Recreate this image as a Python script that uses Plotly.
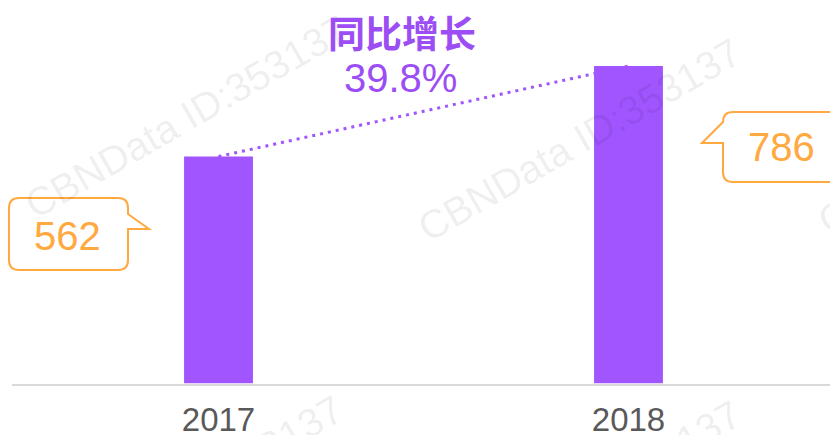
import plotly.graph_objects as go

years = [2017, 2018]
values = [562, 786]
growth_title = "同比增长"
growth_label = "39.8%"
watermark = "CBNData ID:353137"

W, H = 830, 435
BAR = "#A155FF"
ORANGE = "#FFA940"
PURPLE_TXT = "#9C4DF4"
FONT = "Liberation Sans, Arial, Noto Sans CJK SC"
CJK = "Noto Sans CJK SC, Liberation Sans"

def px(x):
    return x / W

def py(y):
    return 1 - y / H

fig = go.Figure()
fig.add_trace(go.Bar(x=years, y=values, width=0.168, marker=dict(color=BAR, line=dict(width=0)),
                     hoverinfo="skip"))
fig.add_trace(go.Scatter(x=years, y=values, mode="lines",
                         line=dict(color=BAR, width=3, dash="3px,5px"), hoverinfo="skip"))

def ann(cx, cy, text, font, angle=0):
    fig.add_annotation(x=px(cx), y=py(cy), xref="paper", yref="paper", text=text,
                       textangle=angle, showarrow=False, xanchor="center", yanchor="middle",
                       font=font)

# watermarks
for cx, cy in [(186, 117), (579, 140), (979, 133), (181, 497), (579, 502)]:
    ann(cx, cy, watermark, dict(size=40, family=FONT, color="rgba(0,0,0,0.075)"), -30)

def callout_right(x0, y0, x1, y1, ty0, ty1, tipx, r=10):
    return (f"M {px(x0+r)},{py(y0)} L {px(x1-r)},{py(y0)} Q {px(x1)},{py(y0)} {px(x1)},{py(y0+r)} "
            f"L {px(x1)},{py(ty0)} L {px(tipx)},{py(ty1)} L {px(x1)},{py(ty1)} "
            f"L {px(x1)},{py(y1-r)} Q {px(x1)},{py(y1)} {px(x1-r)},{py(y1)} "
            f"L {px(x0+r)},{py(y1)} Q {px(x0)},{py(y1)} {px(x0)},{py(y1-r)} "
            f"L {px(x0)},{py(y0+r)} Q {px(x0)},{py(y0)} {px(x0+r)},{py(y0)} Z")

def callout_left(x0, y0, x1, y1, ty0, ty1, tipx, r=10):
    return (f"M {px(x0+r)},{py(y0)} L {px(x1)},{py(y0)} L {px(x1)},{py(y1)} "
            f"L {px(x0+r)},{py(y1)} Q {px(x0)},{py(y1)} {px(x0)},{py(y1-r)} "
            f"L {px(x0)},{py(ty1)} L {px(tipx)},{py(ty1)} L {px(x0)},{py(ty0)} "
            f"L {px(x0)},{py(y0+r)} Q {px(x0)},{py(y0)} {px(x0+r)},{py(y0)} Z")

fig.add_shape(type="path", xref="paper", yref="paper",
              path=callout_right(9, 198, 128, 270, 214, 229, 149),
              line=dict(color=ORANGE, width=2), fillcolor="rgba(255,255,255,0.6)")
fig.add_shape(type="path", xref="paper", yref="paper",
              path=callout_left(723, 112, 860, 182, 122, 143, 702),
              line=dict(color=ORANGE, width=2), fillcolor="rgba(255,255,255,0.6)")

ann(67, 236, str(values[0]), dict(size=40, family=FONT, color=ORANGE))
ann(781, 147, str(values[1]), dict(size=40, family=FONT, color=ORANGE))
ann(402, 32, "<b>" + growth_title + "</b>", dict(size=37, family=CJK, color=PURPLE_TXT))
ann(400, 78, growth_label, dict(size=40, family=FONT, color=PURPLE_TXT))

fig.update_layout(
    width=W, height=H, margin=dict(l=0, r=0, t=0, b=0, autoexpand=False),
    paper_bgcolor="white", plot_bgcolor="white", showlegend=False,
    xaxis=dict(domain=[12 / W, 1], range=[2016.4963, 2018.4915], tickvals=years,
               ticktext=[str(y) for y in years], showgrid=False, zeroline=False,
               showline=True, linecolor="#D9D9D9", linewidth=2, ticklabelstandoff=6,
               automargin=False,
               tickfont=dict(size=33, family=FONT, color="#595959"), ticks=""),
    yaxis=dict(domain=[(H - 383.5) / H, 1], range=[0, 949.5], visible=False, automargin=False),
)

fig.write_html("out.html", config={"displayModeBar": False},
               post_script="document.body.style.margin='0';document.body.style.overflow='hidden';")
